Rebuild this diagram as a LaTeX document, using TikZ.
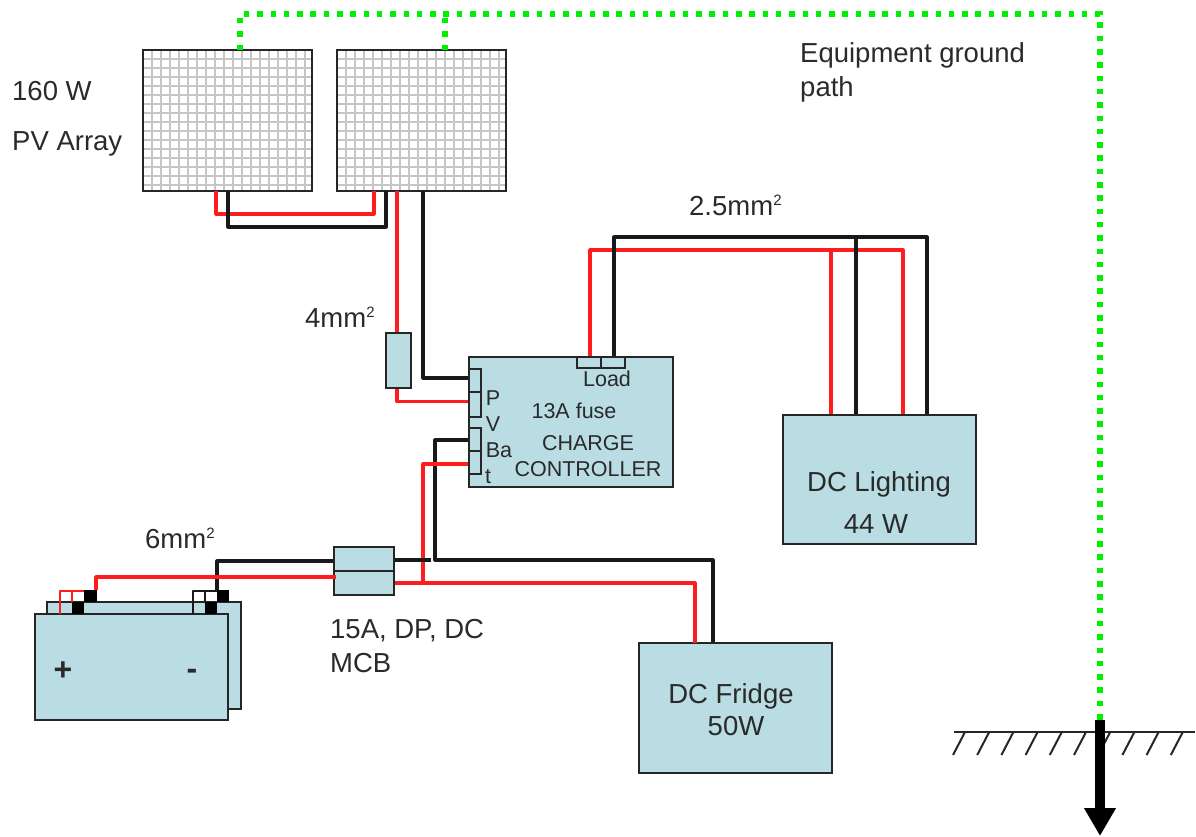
\documentclass[tikz,border=0pt]{standalone}
\usepackage{fontspec}
\setmainfont{Liberation Sans}
\usetikzlibrary{arrows.meta}
\definecolor{boxfill}{HTML}{B9DDE2}
\definecolor{wirered}{HTML}{FF1C1C}
\definecolor{earthgreen}{HTML}{00F000}
\definecolor{inkgray}{HTML}{2A2A2A}
\newcommand{\sqmark}{\raisebox{10pt}{\fontsize{15}{15}\selectfont 2}}
\begin{document}
\begin{tikzpicture}[x=1pt,y=-1pt]
  \tikzstyle{every node}=[inner sep=0pt,text=inkgray,font=\fontsize{27.5}{34}\selectfont]
  \tikzstyle{box}=[rectangle,draw=black!85,line width=2pt,fill=boxfill]
  \tikzstyle{term}=[box,minimum width=12pt,minimum height=23pt]
  \tikzstyle{post}=[rectangle,fill=black,minimum width=12.5pt,minimum height=12pt]
  \tikzstyle{panel}=[rectangle,draw=black!85,line width=2pt,minimum width=169pt,minimum height=141pt]
  \tikzstyle{redwire}=[draw=wirered,line width=3.2pt,line join=round]
  \tikzstyle{blackwire}=[draw=black!90,line width=3.2pt,line join=round]
  \tikzstyle{earth}=[draw=earthgreen,line width=5.5pt,dash pattern=on 5.5pt off 7.8pt]
  \tikzstyle{small}=[font=\fontsize{21.5}{26}\selectfont]
  \useasboundingbox (0,0) rectangle (1196,836);
  \foreach \px in {143,337} {
    \foreach \dx in {9,18,...,162}
      \draw[gray!45,line width=1.5pt] (\px+\dx,50) -- (\px+\dx,191);
    \foreach \dy in {9,18,...,135}
      \draw[gray!45,line width=1.5pt] (\px,50+\dy) -- (\px+169,50+\dy);
  }
  \node[panel] (panela) at (227.5,120.5) {};
  \node[panel] (panelb) at (421,120.5) {};
  \node[box,minimum width=25pt,minimum height=55pt] (fuse) at (398.5,360.5) {};
  \node[box,minimum width=204pt,minimum height=130pt] (ctrl) at (571,422) {};
  \node[term] (pvtop) at (475,380) {};
  \node[term,minimum height=25pt] (pvbot) at (475,404) {};
  \node[term] (battop) at (475,439) {};
  \node[term] (batbot) at (475,462) {};
  \node[term,minimum width=23.5pt,minimum height=11pt] (loadl) at (589,362.5) {};
  \node[term,minimum width=24.5pt,minimum height=11pt] (loadr) at (613,362.5) {};
  \node[box,minimum width=193pt,minimum height=129pt] (lighting) at (879.5,479.5) {};
  \node[box,minimum width=193pt,minimum height=130pt] (fridge) at (735.5,708) {};
  \node[box,minimum width=60pt,minimum height=24pt] (mcbtop) at (364,559) {};
  \node[box,minimum width=60pt,minimum height=24pt] (mcbbot) at (364,583) {};
  \node[box,minimum width=194pt,minimum height=107pt] (batback) at (144,655.5) {};
  \node[box,minimum width=193pt,minimum height=106pt] (batfront) at (131.5,667) {};
  \node[post] (posa) at (78,608) {};
  \node[post] (posb) at (90.5,596) {};
  \node[post] (nega) at (211,608) {};
  \node[post] (negb) at (223,596) {};
  % array wiring
  \coordinate (ared) at (216,191);
  \coordinate (ablack) at (228,191);
  \coordinate (bred) at (374,191);
  \coordinate (bblack) at (386,191);
  \coordinate (outred) at (397,191);
  \coordinate (outblack) at (423,191);
  \draw[redwire] (ared) -- ++(0,23) -| (bred);
  \draw[blackwire] (ablack) -- ++(0,36) -| (bblack);
  \draw[redwire] (outred) -- (outred |- fuse.north);
  \draw[blackwire] (outblack) |- ([yshift=2pt]pvtop.west);
  \draw[redwire] (outred |- fuse.south) |- ([yshift=2.5pt]pvbot.west);
  % load side
  \draw[redwire] (loadl.north) ++(1,0) -- ++(0,-106) -| (lighting.north -| 903,0);
  \draw[redwire] (831,251) -- (lighting.north -| 831,0);
  \draw[blackwire] (loadr.north) ++(1,0) -- ++(0,-119) -| (lighting.north -| 927,0);
  \draw[blackwire] (856,238) -- (lighting.north -| 856,0);
  % battery side
  \coordinate (redtee) at (423,583);
  \coordinate (blackend) at (431,560);
  \coordinate (fridgered) at (695,643);
  \draw[blackwire] (batbot.west |- battop.west) ++(0,1) -- ++(-33,0) |- (713,560) -- (fridge.north -| 713,0);
  \draw[redwire] ([yshift=-2pt]batbot.west) -| (redtee);
  \draw[redwire] (mcbbot.east) -| (fridgered);
  \draw[blackwire] ([yshift=-1pt]mcbtop.east) -- (blackend);
  \draw[blackwire] ([yshift=-2pt]mcbtop.west) -- (217,561) -- (negb.north -| 217,0);
  \draw[redwire] ([xshift=5.5pt]posb.north) |- (336,577);
  \draw[redwire,line width=2.8pt] (posb.west) ++(0,-5) -| (60,614);
  \draw[redwire,line width=2.8pt] (72,591) -- (posa.north -| 72,0);
  \draw[blackwire,line width=2.8pt] (negb.west) ++(0,-5) -| (193,614);
  \draw[blackwire,line width=2.8pt] (205,591) -- (nega.north -| 205,0);
  % ground
  \draw[earth] (240,50) -- (240,14) -- (1100,14) -- (1100,720);
  \draw[earth] (445,50) -- (445,14);
  \coordinate (gndl) at (954,732);
  \coordinate (gndr) at (1195,732);
  \draw[black!85,line width=2pt] (gndl) -- (gndr);
  \foreach \hx in {965,989.2,...,1185}
    \draw[black!85,line width=2pt] (\hx,732) -- (\hx-12,755);
  \coordinate (rodtop) at (1100,720);
  \coordinate (rodend) at (1100,836);
  \draw[black,line width=10pt,-{Triangle[length=28pt,width=30pt]}] (rodtop) -- (rodend);
  % labels
  \node[anchor=west] (watts) at (12,91) {160 W};
  \node[anchor=west] (array) at (12,144) {PV Array};
  \node[anchor=north west,align=left] (path) at (800,42) {Equipment ground\\path};
  \node[anchor=west] (wirea) at (689,205) {2.5mm\sqmark};
  \node[anchor=west] (wireb) at (305,317) {4mm\sqmark};
  \node[anchor=west] (wirec) at (145,538) {6mm\sqmark};
  \node[anchor=north west,align=left] (mcblabel) at (330,619) {15A, DP, DC\\MCB};
  \node[small] (loadlabel) at (607,379) {Load};
  \node[small] (p) at (493,398) {P};
  \node[small] (v) at (493,424) {V};
  \node[small] (ba) at (499,450) {Ba};
  \node[small] (t) at (488,477) {t};
  \node[small] (fuselabel) at (574,411) {13A fuse};
  \node[small] (charge) at (588,443) {CHARGE};
  \node[small] (controller) at (588,469) {CONTROLLER};
  \node (lightlabel) at (879,484) {DC Lighting};
  \node (lightwatts) at (876,524) {44 W};
  \node (fridgelabel) at (731,696) {DC Fridge};
  \node (fridgewatts) at (736,726) {50W};
  \node[font=\fontsize{32}{34}\selectfont\bfseries] (plus) at (63,671) {+};
  \node[font=\fontsize{32}{34}\selectfont\bfseries] (minus) at (192,674) {-};
\end{tikzpicture}
\end{document}
